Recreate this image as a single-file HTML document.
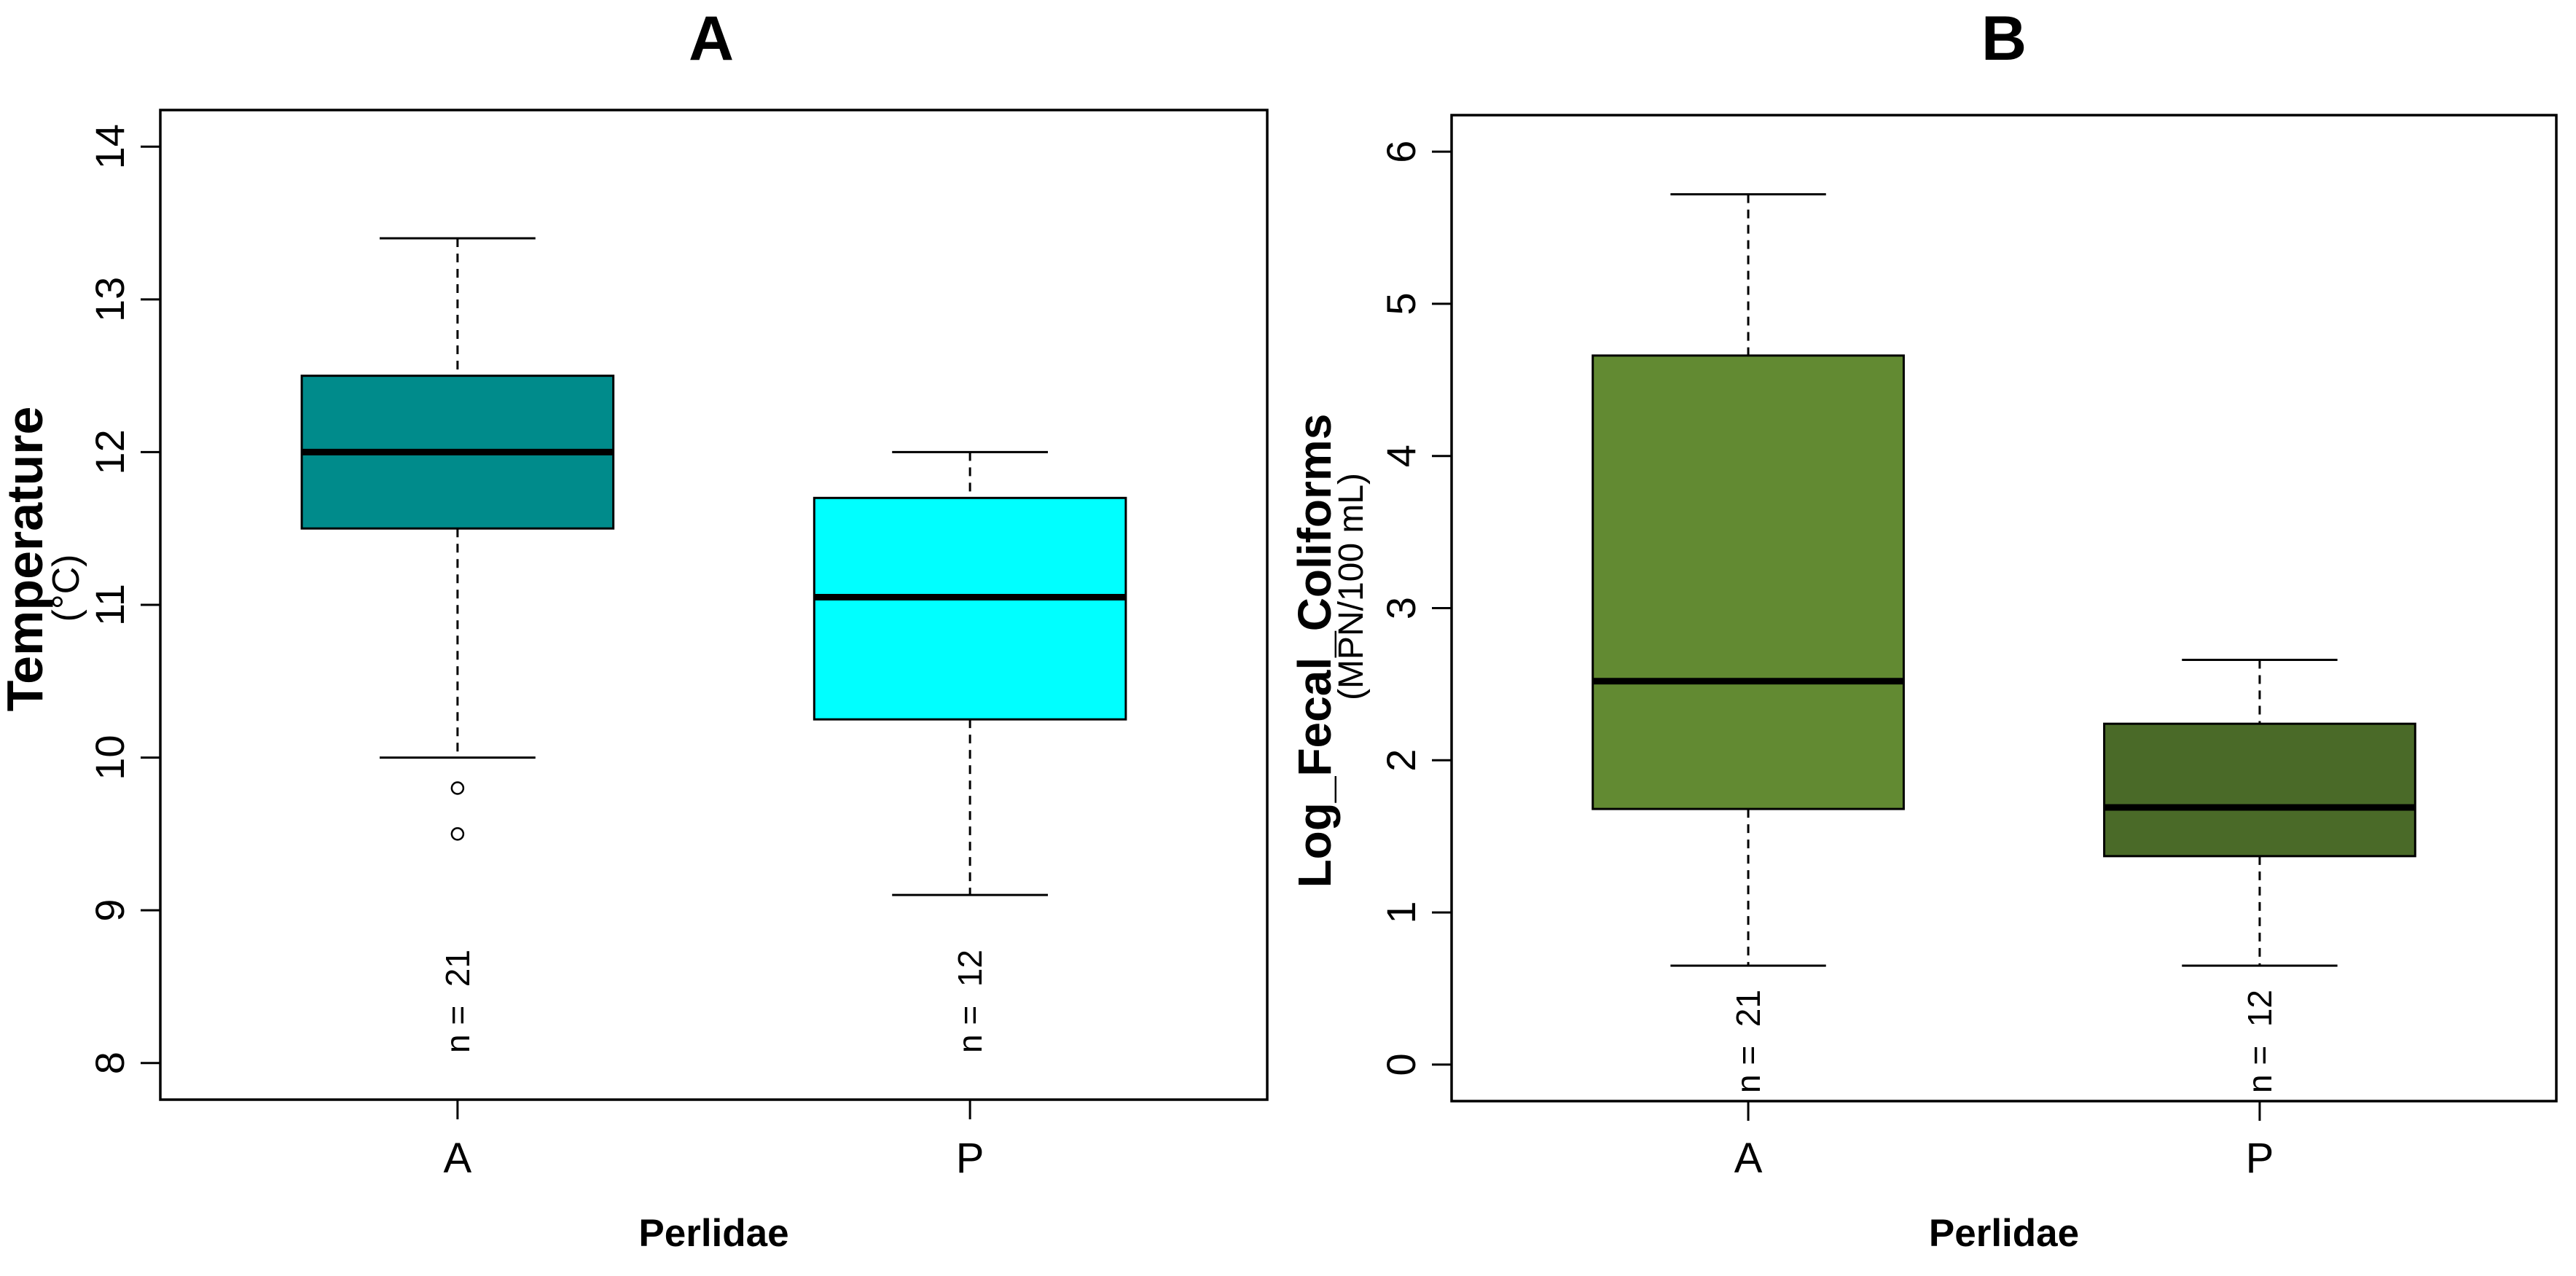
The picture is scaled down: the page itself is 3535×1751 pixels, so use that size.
<!DOCTYPE html>
<html><head><meta charset="utf-8"><style>
html,body{margin:0;padding:0;background:#fff;}
svg{display:block;font-family:"Liberation Sans",Arial,sans-serif;}
</style></head><body>
<svg id="fig" width="3535" height="1751" viewBox="0 0 3535 1751" xmlns="http://www.w3.org/2000/svg">
<rect x="0" y="0" width="3535" height="1751" fill="#fff"/>
<g id="panelA"></g>
<g id="panelB"></g>
</svg>
<script>
const categories = ["A", "P"];
const counts = [21, 12];
// Panel A: Temperature
const tempLowWhisker = [10.0, 9.1];
const tempQ1 = [11.5, 10.25];
const tempMedian = [12.0, 11.05];
const tempQ3 = [12.5, 11.7];
const tempHighWhisker = [13.4, 12.0];
const tempOutliers = [[9.8, 9.5], []];
const tempTicks = [8, 9, 10, 11, 12, 13, 14];
const tempColors = ["#008B8B", "#00FFFF"];
// Panel B: Log fecal coliforms
const fcLowWhisker = [0.65, 0.65];
const fcQ1 = [1.68, 1.37];
const fcMedian = [2.52, 1.69];
const fcQ3 = [4.66, 2.24];
const fcHighWhisker = [5.72, 2.66];
const fcOutliers = [[], []];
const fcTicks = [0, 1, 2, 3, 4, 5, 6];
const fcColors = ["#628A32", "#4A6A28"];

const NS = "http://www.w3.org/2000/svg";
function mk(parent, tag, attrs, text) {
  const e = document.createElementNS(NS, tag);
  for (const k in attrs) e.setAttribute(k, attrs[k]);
  if (text !== undefined) e.textContent = text;
  parent.appendChild(e);
  return e;
}

function drawPanel(g, cfg) {
  const {L, T, R, B, ymin, ymax} = cfg;
  const yr = (ymax - ymin) * 0.04;
  const y = v => B - (v - (ymin - yr)) / ((ymax + yr) - (ymin - yr)) * (B - T);
  const xr = 0.08;
  const x = i => L + (i + 1 - (0.5 - xr)) / ((categories.length + 0.5 + xr) - (0.5 - xr)) * (R - L);
  const unit = (R - L) / (categories.length + 2 * xr);
  const halfBox = 0.4 * unit * 0.76;
  const halfCap = halfBox / 2;

  for (let i = 0; i < categories.length; i++) {
    const cx = x(i);
    const grp = mk(g, "g", {});
    
    
    let l = mk(grp, "line", {x1: cx, x2: cx, y1: y(cfg.hi[i]), y2: y(cfg.q3[i]), stroke: "#000", "stroke-width": 3, "stroke-dasharray": "12,9"});
    
    
    l = mk(grp, "line", {x1: cx, x2: cx, y1: y(cfg.q1[i]), y2: y(cfg.lo[i]), stroke: "#000", "stroke-width": 3, "stroke-dasharray": "12,9"});
    
    
    l = mk(grp, "line", {x1: cx - halfCap, x2: cx + halfCap, y1: y(cfg.hi[i]), y2: y(cfg.hi[i]), stroke: "#000", "stroke-width": 3});
    
    
    l = mk(grp, "line", {x1: cx - halfCap, x2: cx + halfCap, y1: y(cfg.lo[i]), y2: y(cfg.lo[i]), stroke: "#000", "stroke-width": 3});
    
    
    const r = mk(grp, "rect", {x: cx - halfBox, y: y(cfg.q3[i]), width: 2 * halfBox, height: y(cfg.q1[i]) - y(cfg.q3[i]), fill: cfg.colors[i], stroke: "#000", "stroke-width": 3});
    
    
    l = mk(grp, "line", {x1: cx - halfBox, x2: cx + halfBox, y1: y(cfg.med[i]), y2: y(cfg.med[i]), stroke: "#000", "stroke-width": 9});
    
    
    cfg.out[i].forEach(v => {
      const c = mk(grp, "circle", {cx: cx, cy: y(v), r: 8, fill: "none", stroke: "#000", "stroke-width": 2.5});
      
      
    });
    const nt = mk(grp, "text", {transform: `translate(${cx + 16},${cfg.nBottom}) rotate(-90)`, "font-size": 46, fill: "#000", "text-anchor": "start"}, "n =\u00a0\u00a0" + counts[i]);
    
    
    l = mk(g, "line", {x1: cx, x2: cx, y1: B, y2: B + 27, stroke: "#000", "stroke-width": 3});
    
    
    const xt = mk(g, "text", {x: cx, y: 1609, "font-size": 58, "text-anchor": "middle", fill: "#000"}, categories[i]);
    
    
  }
  cfg.ticks.forEach(t => {
    const ty = y(t);
    const l = mk(g, "line", {x1: L - 27, x2: L, y1: ty, y2: ty, stroke: "#000", "stroke-width": 3});
    
    
    const tl = mk(g, "text", {transform: `translate(${L - 50},${ty}) rotate(-90)`, "font-size": 56, "text-anchor": "middle", fill: "#000"}, String(t));
    
    
  });
  const fr = mk(g, "rect", {x: L, y: T, width: R - L, height: B - T, fill: "none", stroke: "#000", "stroke-width": 3.5});
  
  
  const ti = mk(g, "text", {x: cfg.titleX, y: 82, "font-size": 86, "font-weight": "bold", "text-anchor": "middle", fill: "#000"}, cfg.title);
  
  
  const xl = mk(g, "text", {x: (L + R) / 2, y: 1710, "font-size": 53, "font-weight": "bold", "text-anchor": "middle", fill: "#000"}, "Perlidae");
  
  
  const yl = mk(g, "text", {transform: `translate(${cfg.ylabX},${cfg.ylabY}) rotate(-90)`, "font-size": cfg.ylabSize, "font-weight": "bold", "text-anchor": "middle", fill: "#000"}, cfg.ylab);
  
  
  const yu = mk(g, "text", {transform: `translate(${cfg.unitX},${cfg.unitY}) rotate(-90)`, "font-size": cfg.unitSize, "text-anchor": "middle", fill: "#000"}, cfg.unit);
  
  
}

drawPanel(document.getElementById("panelA"), {
  L: 220, T: 151, R: 1739, B: 1509, ymin: 8, ymax: 14,
  lo: tempLowWhisker, q1: tempQ1, med: tempMedian, q3: tempQ3, hi: tempHighWhisker, out: tempOutliers,
  ticks: tempTicks, colors: tempColors, nBottom: 1445,
  title: "A", titleX: 976, ylab: "Temperature", ylabSize: 70, ylabX: 58, ylabY: 767, unit: "(°C)", unitSize: 52, unitX: 108, unitY: 807
});
drawPanel(document.getElementById("panelB"), {
  L: 1992, T: 158, R: 3508, B: 1511, ymin: 0, ymax: 6,
  lo: fcLowWhisker, q1: fcQ1, med: fcMedian, q3: fcQ3, hi: fcHighWhisker, out: fcOutliers,
  ticks: fcTicks, colors: fcColors, nBottom: 1500,
  title: "B", titleX: 2750, ylab: "Log_Fecal_Coliforms", ylabSize: 64, ylabX: 1826, ylabY: 893, unit: "(MPN/100 mL)", unitSize: 48, unitX: 1870, unitY: 805
});
</script>
</body></html>
